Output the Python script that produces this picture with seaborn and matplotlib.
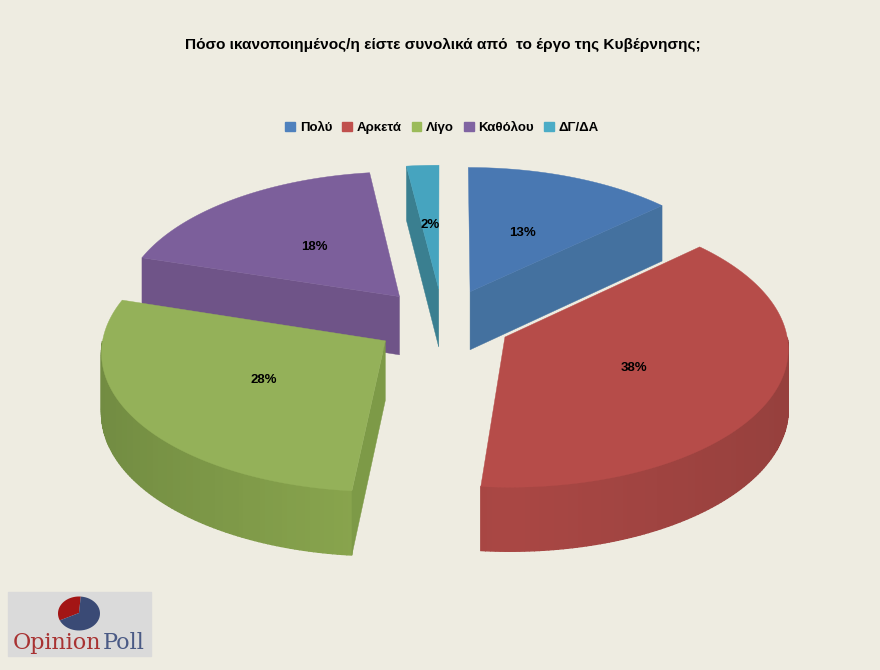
import matplotlib
matplotlib.use('Agg')
import matplotlib.pyplot as plt
from matplotlib.patches import Patch, Rectangle
import seaborn as sns
import numpy as np

# data
labels = ['Πολύ', 'Αρκετά', 'Λίγο', 'Καθόλου', 'ΔΓ/ΔΑ']
values = [13, 38, 28, 18, 2]
title = 'Πόσο ικανοποιημένος/η είστε συνολικά από  το έργο της Κυβέρνησης;'

top_colors = ['#4978B2', '#B64C49', '#94B159', '#7C5F9B', '#46A4BF']
wall_colors = ['#44719F', '#A94744', '#8AA64E', '#6F5488', '#3A7F90']
wall_dark = ['#3F6890', '#96403D', '#728C42', '#644C7B', '#35747F']
cut_colors = ['#44719F', '#A94744', '#7D9A47', '#6F5488', '#3A7F90']
legend_colors = ['#4F81BD', '#C0504D', '#9BBB59', '#8064A2', '#4BACC6']
bg = '#EEECE1'

logo_values = [33, 67]

# projection of the tilted pie
CX, CY = 443, 322
R, TILT, D, H = 280, 0.49, 14, 59
EXPLODE = 0.245


def project(x, y, z=0.0):
    p = D / (D + y)
    return CX + R * x * p, CY - R * TILT * y * p + H * z * p


sns.set_theme(style='white', rc={'figure.facecolor': bg, 'axes.facecolor': bg})
plt.rcParams['font.family'] = ['Liberation Sans', 'DejaVu Sans']

fig = plt.figure(figsize=(8.8, 6.7), dpi=100)
ax = fig.add_axes([0, 0, 1, 1])
ax.set_xlim(0, 880)
ax.set_ylim(670, 0)
ax.axis('off')

total = sum(values)
edges = np.cumsum([0] + values) / total * 2 * np.pi
slices = []
for i in range(len(values)):
    mid = (edges[i] + edges[i + 1]) / 2
    slices.append((np.cos(mid), i, mid))

# back slices first
for order, (_, i, mid) in enumerate(sorted(slices, reverse=True)):
    z = 2 + order
    a0, a1 = edges[i], edges[i + 1]
    ax0, ay0 = EXPLODE * np.sin(mid), EXPLODE * np.cos(mid)
    ang = np.linspace(a0, a1, max(int(values[i] * 4), 8))
    ox = ax0 + np.sin(ang)
    oy = ay0 + np.cos(ang)

    # outer wall
    shades = sns.blend_palette([wall_colors[i], wall_dark[i]], 40)
    for j in range(len(ang) - 1):
        if np.cos((ang[j] + ang[j + 1]) / 2) < 0:
            p = [project(ox[j], oy[j]), project(ox[j + 1], oy[j + 1]),
                 project(ox[j + 1], oy[j + 1], 1), project(ox[j], oy[j], 1)]
            c = shades[min(int(abs(np.sin(ang[j])) * 40), 39)]
            ax.fill(*zip(*p), color=c, lw=1, zorder=z)

    # cut walls, only those facing the viewer
    for a, sign in ((a0, -1), (a1, 1)):
        if -sign * np.sin(a) < -1e-6:
            ex, ey = ax0 + np.sin(a), ay0 + np.cos(a)
            p = [project(ax0, ay0), project(ex, ey), project(ex, ey, 1), project(ax0, ay0, 1)]
            ax.fill(*zip(*p), color=cut_colors[i], lw=0.3, zorder=z + 0.1)

    # top face
    sx, sy = project(np.r_[ax0, ox], np.r_[ay0, oy])
    ax.fill(sx, sy, color=top_colors[i], lw=0.3, zorder=z + 0.2)

    lx, ly = project(ax0 + 0.5 * np.sin(mid), ay0 + 0.5 * np.cos(mid))
    ax.text(lx, ly, f'{values[i]}%', ha='center', va='center', fontsize=9.5,
            fontweight='bold', color='black', zorder=10)

ax.text(443, 45, title, ha='center', va='center', fontsize=11.1, fontweight='bold', color='black')

handles = [Patch(color=c, label=l) for c, l in zip(legend_colors, labels)]
leg = ax.legend(handles=handles, ncol=5, loc='center', bbox_to_anchor=(442 / 880, 1 - 128 / 670),
                frameon=False, fontsize=9.5, handlelength=0.75, handleheight=0.75,
                handletextpad=0.35, columnspacing=0.75, labelcolor='black')
for t in leg.get_texts():
    t.set_fontweight('bold')

# logo
ax.add_patch(Rectangle((8, 592), 143, 64, color='#DADADA', zorder=1))
logo_edges = np.cumsum([0] + logo_values) / sum(logo_values) * 2 * np.pi - np.radians(114)
for k, c in enumerate(['#A31515', '#3A4A75']):
    t = np.linspace(logo_edges[k], logo_edges[k + 1], 40)
    ax.fill(np.r_[79, 79 + 21 * np.sin(t)], np.r_[613, 613.5 + 17 * np.cos(t + np.pi)],
            color=c, lw=0, zorder=2)
ax.text(13, 643, 'Opinion', family='DejaVu Serif', fontsize=16, color='#A83232', va='center', ha='left')
ax.text(103, 643, 'Poll', family='DejaVu Serif', fontsize=16, color='#4A5A85', va='center', ha='left')

fig.savefig('out.png', dpi=100, facecolor=bg)
